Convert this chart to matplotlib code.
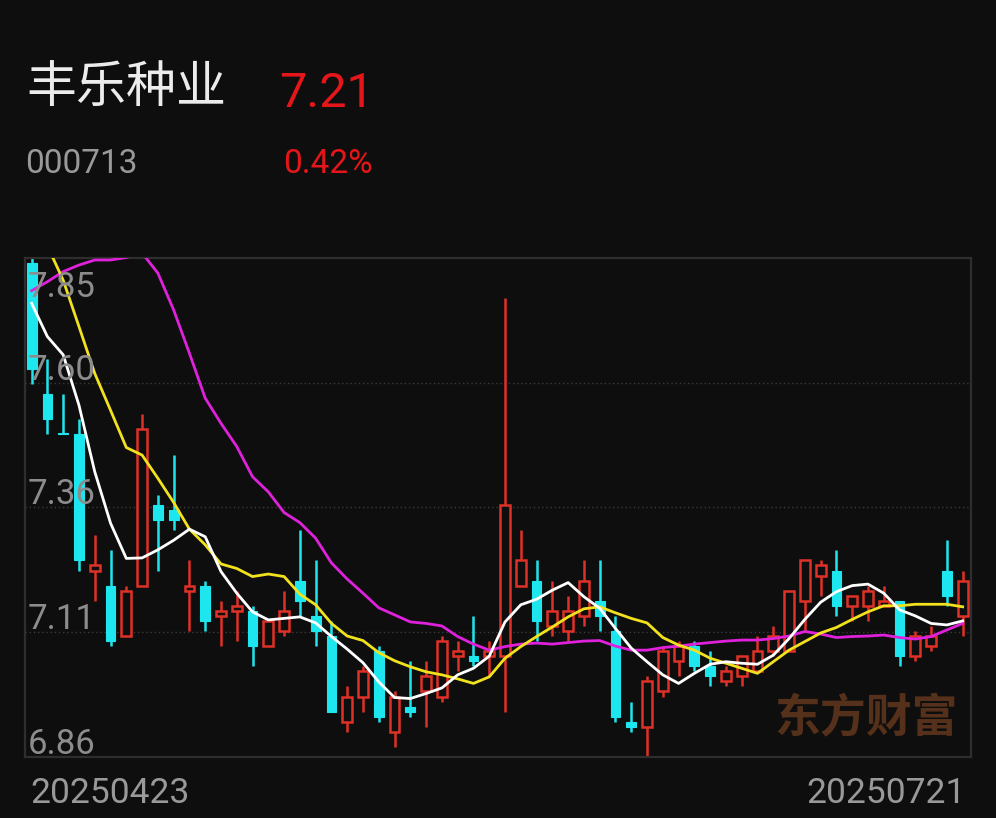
import matplotlib
matplotlib.use('Agg')
import matplotlib.pyplot as plt
import matplotlib.transforms as mtransforms
import numpy as np

# daily candles 20250423 .. 20250721 (60 trading days)
opens = [7.84, 7.58, 7.50, 7.50, 7.23, 7.20, 7.10, 7.20, 7.36, 7.35,
         7.19, 7.20, 7.14, 7.15, 7.15, 7.08, 7.11, 7.21, 7.14, 7.10,
         6.93, 6.98, 7.07, 6.91, 6.96, 6.99, 6.98, 7.06, 7.06, 7.06,
         7.06, 7.20, 7.21, 7.12, 7.11, 7.14, 7.17, 7.11, 6.93, 6.92,
         6.99, 7.05, 7.08, 7.04, 7.01, 7.02, 7.03, 7.07, 7.07, 7.17,
         7.22, 7.23, 7.16, 7.16, 7.16, 7.17, 7.06, 7.08, 7.23, 7.14]
highs = [7.86, 7.65, 7.58, 7.53, 7.30, 7.27, 7.20, 7.54, 7.38, 7.46,
         7.25, 7.21, 7.17, 7.19, 7.16, 7.13, 7.19, 7.31, 7.25, 7.13,
         7.00, 7.04, 7.08, 6.99, 7.05, 7.05, 7.10, 7.09, 7.14, 7.09,
         7.77, 7.31, 7.25, 7.21, 7.18, 7.25, 7.25, 7.14, 6.97, 7.02,
         7.08, 7.09, 7.09, 7.07, 7.04, 7.06, 7.10, 7.12, 7.19, 7.25,
         7.25, 7.27, 7.18, 7.20, 7.20, 7.17, 7.11, 7.12, 7.29, 7.23]
lows = [7.60, 7.50, 7.50, 7.23, 7.17, 7.08, 7.10, 7.20, 7.23, 7.31,
        7.11, 7.11, 7.08, 7.09, 7.04, 7.08, 7.10, 7.14, 7.08, 6.95,
        6.91, 6.95, 6.93, 6.88, 6.94, 6.92, 6.97, 7.03, 7.04, 7.02,
        6.95, 7.20, 7.09, 7.10, 7.09, 7.12, 7.11, 6.93, 6.91, 6.86,
        6.98, 7.02, 7.03, 7.00, 7.00, 7.00, 7.03, 7.06, 7.07, 7.11,
        7.18, 7.14, 7.13, 7.13, 7.16, 7.04, 7.05, 7.07, 7.16, 7.10]
closes = [7.63, 7.53, 7.50, 7.25, 7.24, 7.09, 7.19, 7.51, 7.33, 7.33,
          7.20, 7.13, 7.15, 7.16, 7.08, 7.13, 7.15, 7.17, 7.11, 6.95,
          6.98, 7.03, 6.94, 6.98, 6.95, 7.02, 7.09, 7.07, 7.05, 7.07,
          7.36, 7.25, 7.13, 7.15, 7.15, 7.21, 7.14, 6.94, 6.92, 7.01,
          7.07, 7.08, 7.04, 7.02, 7.03, 7.06, 7.07, 7.10, 7.19, 7.25,
          7.24, 7.16, 7.18, 7.19, 7.17, 7.06, 7.10, 7.10, 7.18, 7.21]

ma5 = [7.760, 7.694, 7.658, 7.558, 7.426, 7.324, 7.254, 7.255, 7.271, 7.290,
       7.312, 7.297, 7.228, 7.185, 7.148, 7.132, 7.135, 7.138, 7.126, 7.099,
       7.074, 7.047, 7.009, 6.978, 6.976, 6.986, 6.997, 7.023, 7.036, 7.060,
       7.128, 7.162, 7.173, 7.191, 7.206, 7.178, 7.155, 7.115, 7.076, 7.049,
       7.023, 7.006, 7.026, 7.044, 7.049, 7.046, 7.044, 7.062, 7.095, 7.133,
       7.167, 7.188, 7.200, 7.203, 7.185, 7.152, 7.140, 7.125, 7.122, 7.130]
ma10 = [7.945, 7.874, 7.806, 7.714, 7.621, 7.548, 7.474, 7.459, 7.413, 7.365,
        7.312, 7.281, 7.243, 7.234, 7.218, 7.223, 7.218, 7.183, 7.162, 7.125,
        7.100, 7.091, 7.067, 7.051, 7.039, 7.029, 7.023, 7.015, 7.006, 7.019,
        7.056, 7.079, 7.099, 7.118, 7.138, 7.154, 7.158, 7.146, 7.135, 7.126,
        7.097, 7.082, 7.072, 7.056, 7.046, 7.036, 7.026, 7.049, 7.072, 7.089,
        7.106, 7.117, 7.133, 7.148, 7.160, 7.160, 7.163, 7.163, 7.163, 7.158]
ma20 = [7.785, 7.803, 7.823, 7.836, 7.846, 7.846, 7.851, 7.860, 7.820, 7.747,
        7.661, 7.572, 7.522, 7.476, 7.416, 7.386, 7.345, 7.325, 7.294, 7.245,
        7.213, 7.185, 7.156, 7.142, 7.128, 7.125, 7.120, 7.099, 7.084, 7.072,
        7.079, 7.084, 7.086, 7.084, 7.087, 7.090, 7.091, 7.080, 7.072, 7.072,
        7.077, 7.080, 7.084, 7.087, 7.090, 7.092, 7.092, 7.095, 7.100, 7.109,
        7.104, 7.097, 7.099, 7.100, 7.102, 7.097, 7.094, 7.099, 7.112, 7.125]

y_min, y_max = 6.86, 7.85
y_labels = ['7.85', '7.60', '7.36', '7.11', '6.86']
first_date, last_date = '20250423', '20250721'
name, code = '丰乐种业', '000713'
last_price, pct = '7.21', '0.42%'

BG = '#0e0e0e'
RED = '#de3127'
CYAN = '#1ee6ee'
NUM_FONT = ['Roboto', 'DejaVu Sans']
CJK_FONT = ['Noto Sans CJK SC', 'DejaVu Sans']

fig = plt.figure(figsize=(9.96, 8.18), dpi=100, facecolor=BG)
ax = fig.add_axes([25 / 996, 61 / 818, 946 / 996, 499 / 818])
ax.set_facecolor(BG)

n = len(closes)
x = np.arange(n)
o, h, l, c = map(np.array, (opens, highs, lows, closes))

# up / down colouring, flat days use previous close
up = np.zeros(n, dtype=bool)
for i in range(n):
    if c[i] > o[i]:
        up[i] = True
    elif c[i] == o[i] and i > 0:
        up[i] = c[i] >= c[i - 1]

w = 0.62
for i in range(n):
    top, bot = max(o[i], c[i]), min(o[i], c[i])
    hgt = max(top - bot, 0.002)
    if up[i]:
        ax.vlines(x[i], top, h[i], color=RED, lw=1.8, zorder=2)
        ax.vlines(x[i], l[i], bot, color=RED, lw=1.8, zorder=2)
        ax.add_patch(plt.Rectangle((x[i] - w / 2, bot), w, hgt, facecolor=BG,
                                   edgecolor=RED, lw=1.8, zorder=3))
    else:
        ax.vlines(x[i], l[i], h[i], color=CYAN, lw=1.8, zorder=2)
        ax.add_patch(plt.Rectangle((x[i] - w / 2, bot), w, hgt, facecolor=CYAN,
                                   edgecolor=CYAN, lw=0.8, zorder=3))

ax.plot(x, ma20, color='#e021dc', lw=2.0, zorder=4)
ax.plot(x, ma10, color='#f2e21e', lw=2.0, zorder=4)
ax.plot(x, ma5, color='#ffffff', lw=2.0, zorder=5)

ax.set_xlim(-0.42, 59.53)
ax.set_ylim(y_min, y_max)
ax.set_xticks([])
ax.set_yticks([])
for s in ax.spines.values():
    s.set_color('#2e2e2e')
    s.set_linewidth(1.6)

grid_vals = np.linspace(y_max, y_min, 5)
for gv in grid_vals[1:-1]:
    ax.axhline(gv, color='#3a3a3a', lw=1.0, ls=(0, (1, 2)), zorder=1)

# y labels sit inside the panel, just above each grid line
for gv, lab in zip(grid_vals, y_labels):
    if gv == y_max:
        tr = mtransforms.offset_copy(ax.get_yaxis_transform(), fig=fig, y=-28, units='points')
    else:
        tr = mtransforms.offset_copy(ax.get_yaxis_transform(), fig=fig, y=2.2, units='points')
    ax.text(3 / 946, gv, lab, transform=tr, ha='left', va='baseline',
            fontsize=25, color='#8c8c8c', family=NUM_FONT, zorder=6)

ax.text(0.986, 0.03, '东方财富', transform=ax.transAxes, ha='right', va='bottom',
        fontsize=33, fontweight='bold', color='#55301a', family=CJK_FONT, zorder=1)

# header
fig.text(26 / 996, 1 - 88 / 818, name, ha='left', va='center', fontsize=36,
         color='#ececec', family=CJK_FONT)
fig.text(279 / 996, 1 - 107 / 818, last_price, ha='left', va='baseline', fontsize=35,
         color='#e5161a', family=NUM_FONT)
fig.text(25 / 996, 1 - 173 / 818, code, ha='left', va='baseline', fontsize=24,
         color='#999999', family=NUM_FONT)
fig.text(283 / 996, 1 - 173 / 818, pct, ha='left', va='baseline', fontsize=24,
         color='#e5161a', family=NUM_FONT)

# dates
fig.text(30 / 996, 1 - 803 / 818, first_date, ha='left', va='baseline', fontsize=25.5,
         color='#999999', family=NUM_FONT)
fig.text(966 / 996, 1 - 803 / 818, last_date, ha='right', va='baseline', fontsize=25.5,
         color='#999999', family=NUM_FONT)

fig.savefig('out.png', dpi=100, facecolor=BG)
